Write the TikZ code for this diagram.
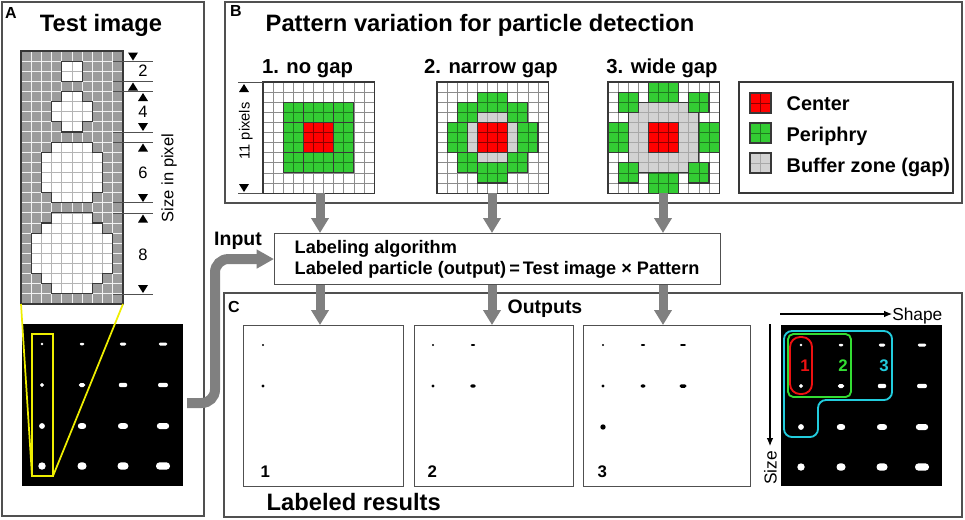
\documentclass[tikz,border=0pt]{standalone}
\usepackage{fontspec}
\setmainfont{Liberation Sans}
\usetikzlibrary{arrows.meta}
\definecolor{framec}{HTML}{505050}
\definecolor{outlc}{HTML}{383838}
\definecolor{plinec}{HTML}{8C8C8C}
\definecolor{arrowgray}{HTML}{808080}
\definecolor{pgreen}{HTML}{33CC33}
\definecolor{pgreenline}{HTML}{1F7A1F}
\definecolor{pred}{HTML}{FF0000}
\definecolor{predline}{HTML}{8B0000}
\definecolor{pgray}{HTML}{D2D2D2}
\definecolor{pgrayline}{HTML}{A8A8A8}
\definecolor{tgray}{HTML}{9C9C9C}
\definecolor{tline}{HTML}{B4B4B4}
\definecolor{ylw}{HTML}{EEEE00}
\definecolor{cyanc}{HTML}{22CCDD}
\definecolor{greenc}{HTML}{33DD33}
\definecolor{redc}{HTML}{EE1111}
\tikzset{
  frame/.style={draw=framec, line width=0.9pt},
  outl/.style={draw=outlc, line width=0.85pt},
  pline/.style={draw=plinec, line width=0.5pt},
  boxn/.style={draw=framec, line width=0.8pt, fill=white, inner sep=0pt, anchor=north west},
  garrow/.style={draw=arrowgray, line width=6.75pt, -{Triangle[width=12.75pt,length=11.25pt]}},
  titlef/.style={font=\bfseries\fontsize{17.8}{20}\selectfont, anchor=base},
  letterf/.style={font=\bfseries\fontsize{12}{14}\selectfont, anchor=base},
  subf/.style={font=\bfseries\fontsize{15.2}{17}\selectfont, anchor=base},
  legf/.style={font=\bfseries\fontsize{14.9}{17}\selectfont, anchor=base west},
  boxf/.style={font=\bfseries\fontsize{13.6}{16}\selectfont, anchor=base west},
  midf/.style={font=\bfseries\fontsize{14.6}{17}\selectfont, anchor=base},
  numf/.style={font=\bfseries\fontsize{12.6}{14}\selectfont, anchor=base},
  regf/.style={font=\fontsize{12.4}{14}\selectfont, anchor=base},
  smallf/.style={font=\fontsize{11}{13}\selectfont, anchor=base},
}
\newcommand\region[3]{%
  \fill[#1] #3;
  \begin{scope}
    \clip #3;
    \foreach \k in {0,...,11}{\draw[#2, line width=0.6pt] (\k,-1) -- (\k,12); \draw[#2, line width=0.6pt] (-1,\k) -- (12,\k);}
  \end{scope}
  \draw[outl] #3;}
\newcommand\patgrid{%
  \fill[white] (0,0) rectangle (11,11);
  \foreach \k in {1,...,10}{\draw[pline] (\k,0) -- (\k,11); \draw[pline] (0,\k) -- (11,\k);}
  \draw[outl] (0,0) rectangle (11,11);}
\newcommand\pdot[4]{%
  \pgfmathsetmacro\rr{0.36*#4}%
  \fill[rounded corners=\rr pt] ({#1-#3/2},{#2-#4/2}) rectangle ({#1+#3/2},{#2+#4/2});}
\newcommand\alldots[2]{%
  \foreach \dx/\dy/\w/\h in {20/20/2.7/2.7, 60/20/4.5/2.5, 101/20/6.5/3, 141/20/8.5/3,
    20/61/4/4, 60/61/6.5/4, 101/61/8.5/4.3, 141/61/10/4.3,
    20/102/5.7/5.7, 60/102/8.3/5.7, 101/102/10/5.7, 141/102/12.3/6,
    20/142/7.3/7.3, 60/142/9/7.3, 101/142/11/7.3, 141/142/14/7.3}
    {\pdot{#1+\dx}{#2+\dy}{\w}{\h}}}
\newcommand\tdn[2]{\fill (#1-5,#2-8) -- (#1+5,#2-8) -- (#1,#2) -- cycle;}
\newcommand\tup[2]{\fill (#1-5,#2+8) -- (#1+5,#2+8) -- (#1,#2) -- cycle;}
\def\shapesA{(4,1) -- (6,1) -- (6,3) -- (4,3) -- cycle
  (4,4) -- (6,4) -- (6,5) -- (7,5) -- (7,7) -- (6,7) -- (6,8) -- (4,8) -- (4,7) -- (3,7) -- (3,5) -- (4,5) -- cycle
  (3,9) -- (7,9) -- (7,10) -- (8,10) -- (8,14) -- (7,14) -- (7,15) -- (3,15) -- (3,14) -- (2,14) -- (2,10) -- (3,10) -- cycle
  (3,16) -- (7,16) -- (7,17) -- (8,17) -- (8,18) -- (9,18) -- (9,22) -- (8,22) -- (8,23) -- (7,23) -- (7,24) -- (3,24) -- (3,23) -- (2,23) -- (2,22) -- (1,22) -- (1,18) -- (2,18) -- (2,17) -- (3,17) -- cycle}
\begin{document}
\begin{tikzpicture}[x=0.75pt,y=-0.75pt]
\useasboundingbox (0,0) rectangle (965,519);
\fill[white] (0,0) rectangle (965,519);
% ---------- frames
\draw[frame] (2,2) rectangle (204,516);
\draw[frame] (225,2) rectangle (962,203);
\draw[frame] (224,293) rectangle (962,517);
% ---------- panel A
\node[letterf] (lA) at (11,18.3) {A};
\node[titlef] (tA) at (101,31.7) {Test image};
\begin{scope}[shift={(21,51)}, x=7.65pt, y=-7.59pt]
  \fill[tgray] (0,0) rectangle (10,25);
  \foreach \k in {1,...,9} \draw[white!90!gray, line width=0.7pt] (\k,0) -- (\k,25);
  \foreach \k in {1,...,24} \draw[white!90!gray, line width=0.7pt] (0,\k) -- (10,\k);
  \fill[white] \shapesA;
  \begin{scope}
    \clip \shapesA;
    \foreach \k in {1,...,9} \draw[tline, line width=0.6pt] (\k,0) -- (\k,25);
    \foreach \k in {1,...,24} \draw[tline, line width=0.6pt] (0,\k) -- (10,\k);
  \end{scope}
  \draw[outl] \shapesA;
  \draw[outl] (0,0) rectangle (10,25);
  \coordinate (gbl) at (0,25);
  \coordinate (gbr) at (10,25);
\end{scope}
% measurement marks
\foreach \yy in {61.1,81.4,91.5,132,142.1,202.8,213,294}
  \draw[framec, line width=0.5pt] (113,\yy) -- (153,\yy);
\tdn{133}{60.5}\tup{133}{82.5}
\tup{143}{93}\tdn{143}{131}
\tup{143}{143.5}\tdn{143}{202}
\tup{143}{214.5}\tdn{143}{293}
\node[regf] (n2) at (143,76.7) {2};
\node[regf] (n4) at (143,117.3) {4};
\node[regf] (n6) at (143,178.3) {6};
\node[regf] (n8) at (143,260) {8};
\node[regf, rotate=90] (sip) at (173.3,178) {Size in pixel};
% black image A
\fill[black] (22,324) rectangle (183,486);
\begin{scope}[fill=white]
  \alldots{22}{324}
\end{scope}
\coordinate (yb1) at (32,476);
\coordinate (yb2) at (53,476);
\draw[ylw, line width=1.5pt] (32,334) rectangle (53,476);
\draw[ylw, line width=1.3pt] (gbl) -- (yb1);
\draw[ylw, line width=1.3pt] (gbr) -- (yb2);
% ---------- panel B
\node[letterf] (lB) at (236,16.7) {B};
\node[titlef] (tB) at (480,31.7) {Pattern variation for particle detection};
\node[subf] (s1) at (307.5,73.5) {1. no gap};
\node[subf] (s2) at (491,73.5) {2. narrow gap};
\node[subf] (s3) at (662,73.5) {3. wide gap};
% pattern 1
\begin{scope}[shift={(263,82)}, x=7.575pt, y=-7.575pt]
  \patgrid
  \region{pgreen}{pgreenline}{(2,2) rectangle (4,4)}
  \region{pgreen}{pgreenline}{(4,2) rectangle (7,4)}
  \region{pgreen}{pgreenline}{(7,2) rectangle (9,4)}
  \region{pgreen}{pgreenline}{(2,4) rectangle (4,7)}
  \region{pgreen}{pgreenline}{(7,4) rectangle (9,7)}
  \region{pgreen}{pgreenline}{(2,7) rectangle (4,9)}
  \region{pgreen}{pgreenline}{(4,7) rectangle (7,9)}
  \region{pgreen}{pgreenline}{(7,7) rectangle (9,9)}
  \region{pred}{predline}{(4,4) rectangle (7,7)}
\end{scope}
% pattern 2
\begin{scope}[shift={(437,82)}, x=7.575pt, y=-7.575pt]
  \patgrid
  \region{pgray}{pgrayline}{(4,3) rectangle (7,4)}
  \region{pgray}{pgrayline}{(4,7) rectangle (7,8)}
  \region{pgray}{pgrayline}{(3,4) rectangle (4,7)}
  \region{pgray}{pgrayline}{(7,4) rectangle (8,7)}
  \region{pgreen}{pgreenline}{(4,1) rectangle (7,3)}
  \region{pgreen}{pgreenline}{(4,8) rectangle (7,10)}
  \region{pgreen}{pgreenline}{(1,4) rectangle (3,7)}
  \region{pgreen}{pgreenline}{(8,4) rectangle (10,7)}
  \region{pgreen}{pgreenline}{(2,2) rectangle (4,4)}
  \region{pgreen}{pgreenline}{(7,2) rectangle (9,4)}
  \region{pgreen}{pgreenline}{(2,7) rectangle (4,9)}
  \region{pgreen}{pgreenline}{(7,7) rectangle (9,9)}
  \region{pred}{predline}{(4,4) rectangle (7,7)}
\end{scope}
% pattern 3
\begin{scope}[shift={(608,82)}, x=7.575pt, y=-7.575pt]
  \patgrid
  \region{pgray}{pgrayline}{(3,2) -- (8,2) -- (8,3) -- (9,3) -- (9,8) -- (8,8) -- (8,9) -- (3,9) -- (3,8) -- (2,8) -- (2,3) -- (3,3) -- cycle}
  \region{pgreen}{pgreenline}{(4,0) rectangle (7,2)}
  \region{pgreen}{pgreenline}{(4,9) rectangle (7,11)}
  \region{pgreen}{pgreenline}{(0,4) rectangle (2,7)}
  \region{pgreen}{pgreenline}{(9,4) rectangle (11,7)}
  \region{pgreen}{pgreenline}{(1,1) rectangle (3,3)}
  \region{pgreen}{pgreenline}{(8,1) rectangle (10,3)}
  \region{pgreen}{pgreenline}{(1,8) rectangle (3,10)}
  \region{pgreen}{pgreenline}{(8,8) rectangle (10,10)}
  \region{pred}{predline}{(4,4) rectangle (7,7)}
\end{scope}
% 11 pixels
\draw[framec, line width=0.5pt] (238,82) -- (263,82);
\draw[framec, line width=0.5pt] (238,193) -- (263,193);
\tup{244}{84}\tdn{244}{192}
\node[smallf, rotate=90] (elp) at (249.5,131) {11 pixels};
% legend
\draw[outl] (739,82) rectangle (953,193);
\begin{scope}[shift={(750,93)}, x=7.875pt, y=-7.5pt]
  \region{pred}{predline}{(0,0) rectangle (2,2)}
\end{scope}
\begin{scope}[shift={(750,123)}, x=7.875pt, y=-7.5pt]
  \region{pgreen}{pgreenline}{(0,0) rectangle (2,2)}
\end{scope}
\begin{scope}[shift={(750,153)}, x=7.875pt, y=-7.5pt]
  \region{pgray}{pgrayline}{(0,0) rectangle (2,2)}
\end{scope}
\node[legf] (lc) at (782,110) {Center};
\node[legf] (lp) at (782,141.5) {Periphry};
\node[legf] (lb) at (782,172.5) {Buffer zone (gap)};
% ---------- algorithm box
\node[boxn, minimum width=334.5pt, minimum height=38.25pt] (algo) at (274,233) {};
\node[boxf] (al1) at (290,253.3) {Labeling algorithm};
\node[boxf] (al2) at (290,274.3) {Labeled particle (output)\,=\,Test image × Pattern};
\node[midf] (inp) at (238,245) {Input};
% ---------- panel C
\node[letterf] (lC) at (234,312) {C};
\node[midf] (outs) at (545,313) {Outputs};
\node[boxn, minimum width=120pt, minimum height=120.75pt] (out1) at (243,325) {};
\node[boxn, minimum width=119.25pt, minimum height=120.75pt] (out2) at (414,325) {};
\node[boxn, minimum width=125.25pt, minimum height=120.75pt] (out3) at (583,325) {};
\node[numf, anchor=base west] (o1) at (256,477) {1};
\node[numf, anchor=base west] (o2) at (423,477) {2};
\node[numf, anchor=base west] (o3) at (593,477) {3};
\node[titlef, anchor=base west] (lr) at (262,510) {Labeled results};
\begin{scope}[fill=black]
  \pdot{263}{345}{2}{2}
  \pdot{263}{386}{3.3}{3.3}
  \pdot{433}{345}{2}{2}
  \pdot{473}{345}{4.3}{1.8}
  \pdot{433}{386}{3.3}{3.3}
  \pdot{473}{386}{5.7}{3.3}
  \pdot{603}{345}{2}{2}
  \pdot{643}{345}{4.3}{1.8}
  \pdot{683}{345}{5.7}{1.8}
  \pdot{603}{386}{3.3}{3.3}
  \pdot{643}{386}{5}{3.3}
  \pdot{683}{386}{7}{3.5}
  \pdot{603}{427}{5.3}{5.3}
\end{scope}
% right image
\fill[black] (781,325) rectangle (942,486);
\begin{scope}[fill=white]
  \alldots{781}{325}
\end{scope}
\draw[cyanc, line width=1.4pt, rounded corners=6pt] (784,331) -- (892,331) -- (892,400) -- (818,400) -- (818,437) -- (784,437) -- cycle;
\draw[greenc, line width=1.4pt, rounded corners=4pt] (788,334) rectangle (851,397);
\draw[redc, line width=1.4pt, rounded corners=7.5pt] (790,337) rectangle (812,394);
\node[numf, text=redc] (c1) at (805,371.7) {1};
\node[numf, text=greenc] (c2) at (843,371.7) {2};
\node[numf, text=cyanc] (c3) at (884,371.7) {3};
\node[font=\fontsize{13}{15}\selectfont, anchor=base west, inner sep=0pt] (shp) at (892,320) {Shape};
\coordinate (shs) at (780,314);
\draw[line width=0.8pt, -{Latex[length=6pt,width=5pt]}] (shs) -- (shs -| shp.west);
\node[font=\fontsize{13}{15}\selectfont, anchor=base, rotate=90, inner sep=0pt] (sz) at (776.5,468) {Size};
\coordinate (szs) at (770,324);
\coordinate (sze) at (770,446);
\draw[line width=0.8pt, -{Latex[length=6pt,width=5pt]}] (szs) -- (sze);
% ---------- gray arrows
\coordinate (pb1) at (320,193);
\coordinate (pb2) at (492,193);
\coordinate (pb3) at (663,193);
\foreach \p in {pb1,pb2,pb3}{
  \draw[garrow] (\p) -- (\p |- algo.north);
  \draw[garrow] (\p |- algo.south) -- (\p |- out1.north);
}
\coordinate (inA) at (187,403);
\draw[draw=arrowgray, line width=7.5pt, rounded corners=10pt, -{Triangle[width=13.5pt,length=13pt]}] (inA) -| ([xshift=-44.25pt]algo.west) -- (algo.west);
\end{tikzpicture}
\end{document}
